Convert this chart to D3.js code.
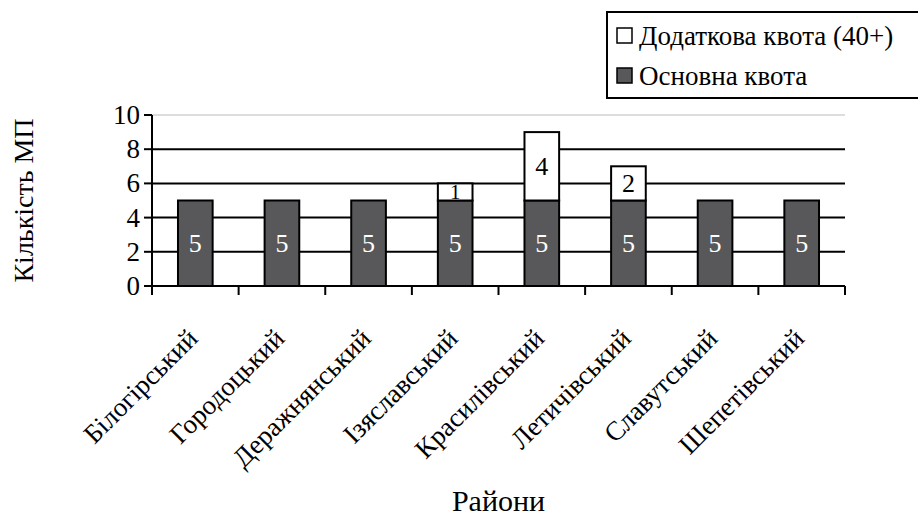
<!DOCTYPE html>
<html lang="uk">
<head>
<meta charset="utf-8">
<script src="https://cdn.jsdelivr.net/npm/d3@7"></script>
<style>
  @font-face { font-family: "RefSerif"; src: local("Liberation Serif"), local("LiberationSerif"), local("Times New Roman"), local("Tinos"); }
</style>
</head>
<body style="margin:0">
<svg id="s" width="918" height="517"></svg>
<script>
// data
const districts = ["Білогірський", "Городоцький", "Деражнянський", "Ізяславський",
                   "Красилівський", "Летичівський", "Славутський", "Шепетівський"];
const mainQuota = [5, 5, 5, 5, 5, 5, 5, 5];
const extraQuota = [0, 0, 0, 1, 4, 2, 0, 0];
const yTicks = [0, 2, 4, 6, 8, 10];
const seriesNames = ["Додаткова квота (40+)", "Основна квота"];

const svg = d3.select("#s");
const darkFill = "#58585a";

let x0 = 152, x1 = 845, yTop = 115, yBottom = 286;

let x = d3.scaleBand().domain(districts).range([x0, x1]).paddingInner(0.6).paddingOuter(0.3);
let xTicks = d3.scaleBand().domain(districts).range([x0, x1]);
let y = d3.scaleLinear().domain([0, 10]).range([yBottom, yTop]);

function serifText(sel) {
  return sel.style("font-family", d => "'Liberation Serif', RefSerif, 'Times New Roman', Tinos, 'DejaVu Serif'");
}

// gridlines
svg.selectAll("line.grid")
   .data(yTicks.filter(d => d > 0))
   .enter().append("line")
   .attr("x1", x0).attr("x2", x1)
   .attr("y1", d => y(d)).attr("y2", d => y(d))
   .attr("stroke", d => d == 10 ? "#bbb" : "#000")
   .attr("stroke-width", d => d == 10 ? 1 : 2);

let rows = districts.map((d, i) => ({name: d, main: mainQuota[i], extra: extraQuota[i]}));

// main quota
svg.selectAll("rect.main").data(rows).enter().append("rect")
    .attr("x", d => x(d.name))
    .attr("width", x.bandwidth())
    .attr("y", d => y(d.main))
    .attr("height", d => y(0) - y(d.main))
    .attr("fill", darkFill)
    .attr("stroke", "#000")
    .attr("stroke-width", 2);

// extra quota
let extraRows = rows.filter(d => d.extra > 0);
svg.selectAll("rect.extra").data(extraRows).enter().append("rect")
    .attr("x", d => x(d.name))
    .attr("width", x.bandwidth())
    .attr("y", d => y(d.main + d.extra))
    .attr("height", d => y(d.main) - y(d.main + d.extra))
    .attr("fill", "#fff")
    .attr("stroke", "#000")
    .attr("stroke-width", 2);

serifText(svg.selectAll("text.mainlab").data(rows).enter().append("text"))
    .attr("x", d => x(d.name) + x.bandwidth() / 2)
    .attr("y", d => y(d.main / 2) + 9)
    .attr("text-anchor", "middle")
    .attr("fill", "#fff")
    .attr("font-size", 26)
    .text(d => d.main);

serifText(svg.selectAll("text.extralab").data(extraRows).enter().append("text"))
    .attr("x", d => x(d.name) + x.bandwidth() / 2)
    .attr("y", d => y(d.main + d.extra / 2) + (d.extra > 1 ? 9 : 7))
    .attr("text-anchor", "middle")
    .attr("fill", "#000")
    .attr("font-size", d => d.extra > 1 ? 26 : 21)
    .text(d => d.extra);

// y axis
svg.append("line").attr("x1", x0).attr("x2", x0).attr("y1", yTop).attr("y2", yBottom)
   .attr("stroke", "#000").attr("stroke-width", 2);
svg.selectAll("line.ytick").data(yTicks).enter().append("line")
   .attr("x1", x0 - 8).attr("x2", x0).attr("y1", d => y(d)).attr("y2", d => y(d))
   .attr("stroke", "#000").attr("stroke-width", 2);
serifText(svg.selectAll("text.ylab").data(yTicks).enter().append("text"))
   .attr("x", x0 - 12).attr("y", d => y(d) + 9)
   .attr("text-anchor", "end")
   .attr("font-size", 27)
   .text(d => d);

// x axis
svg.append("line").attr("x1", x0 - 8).attr("x2", x1).attr("y1", yBottom).attr("y2", yBottom)
   .attr("stroke", "#000").attr("stroke-width", 2);
let tickPos = districts.map(d => xTicks(d)).concat([x1]);
svg.selectAll("line.xtick").data(tickPos).enter().append("line")
   .attr("x1", d => d).attr("x2", d => d).attr("y1", yBottom).attr("y2", yBottom + 9)
   .attr("stroke", "#000").attr("stroke-width", 2);
serifText(svg.selectAll("text.xlab").data(districts).enter().append("text"))
   .attr("text-anchor", "end")
   .attr("font-size", 27)
   .attr("transform", d => "translate(" + (xTicks(d) + xTicks.bandwidth() / 2 + 4) + "," + (yBottom + 54) + ") rotate(-45)")
   .text(d => d);

// axis titles
serifText(svg.append("text"))
   .attr("transform", "translate(33," + ((yTop + yBottom) / 2) + ") rotate(-90)")
   .attr("text-anchor", "middle")
   .attr("font-size", 28)
   .text("Кількість МП");
serifText(svg.append("text"))
   .attr("x", (x0 + x1) / 2).attr("y", 511)
   .attr("text-anchor", "middle")
   .attr("font-size", 30)
   .text("Райони");

// legend
svg.append("rect").attr("x", 607).attr("y", 12).attr("width", 312).attr("height", 86)
   .attr("fill", "#fff").attr("stroke", "#000").attr("stroke-width", 2);
svg.selectAll("rect.key").data(seriesNames).enter().append("rect")
   .attr("x", 617).attr("y", (d, i) => 28 + i * 40)
   .attr("width", 15).attr("height", 15)
   .attr("fill", (d, i) => i == 0 ? "#fff" : darkFill)
   .attr("stroke", "#000").attr("stroke-width", 1.5);
serifText(svg.selectAll("text.key").data(seriesNames).enter().append("text"))
   .attr("x", 639).attr("y", (d, i) => 45 + i * 40)
   .attr("font-size", 27)
   .text(d => d);
</script>
</body>
</html>
